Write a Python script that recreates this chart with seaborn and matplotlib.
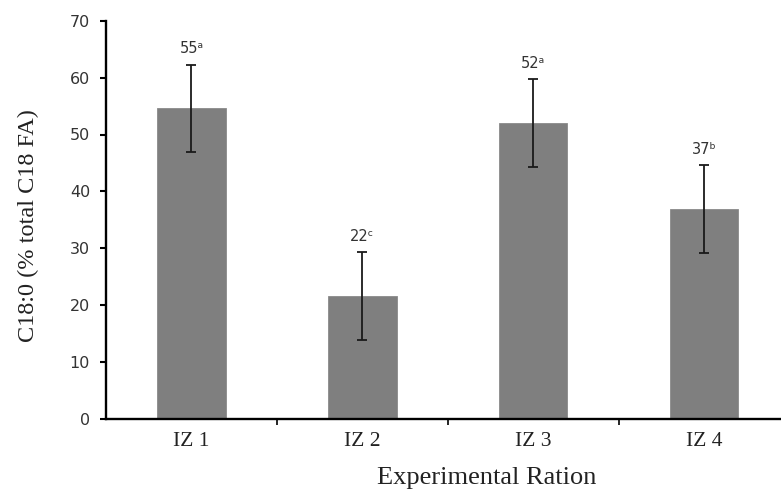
import matplotlib
matplotlib.use("Agg")
import matplotlib.pyplot as plt
import seaborn as sns
import pandas as pd
from matplotlib.ticker import FixedLocator

# ---- data ----
categories = ["IZ 1", "IZ 2", "IZ 3", "IZ 4"]
values = [54.6, 21.6, 52.0, 36.9]
errors = [7.7, 7.7, 7.7, 7.7]
value_labels = ["55", "22", "52", "37"]
letters = ["\u1d43", "\u1d9c", "\u1d43", "\u1d47"]  # superscript a, c, a, b
yticks = [0, 10, 20, 30, 40, 50, 60, 70]

df = pd.DataFrame({"ration": categories, "value": values})

sns.set_theme(style="white")
plt.rcParams["font.family"] = ["DejaVu Sans"]

W, H = 781, 491
fig = plt.figure(figsize=(W / 100, H / 100), dpi=100)
ax = fig.add_axes([106 / W, 1 - 419 / H, 1 - 106 / W, (419 - 20.7) / H])

sns.barplot(data=df, x="ration", y="value", color="#7f7f7f", saturation=1,
            width=0.40, errorbar=None, ax=ax, edgecolor="#8a8a8a", linewidth=0.6)

ax.errorbar(range(len(categories)), values, yerr=errors, fmt="none",
            ecolor="#1a1a1a", elinewidth=1.3, capsize=3.5, capthick=1.3, zorder=5)

for i, (v, e, lab, let) in enumerate(zip(values, errors, value_labels, letters)):
    ax.text(i, v + e + 2.8, lab + let, ha="center", va="center",
            fontsize=10.5, color="#333333", family=["DejaVu Sans"])

ax.set_xlim(-0.5, 3.45)
ax.set_ylim(0, 70)
ax.set_yticks(yticks)
ax.set_yticklabels([str(t) for t in yticks], fontsize=11.5, color="#333333",
                   family=["DejaVu Sans"])
ax.set_xticks(range(len(categories)))
ax.set_xticklabels(categories, fontsize=15.5, family=["Liberation Serif"], color="#222222")
ax.tick_params(axis="x", which="major", length=0, pad=9)
ax.xaxis.set_minor_locator(FixedLocator([0.5, 1.5, 2.5]))
ax.tick_params(axis="x", which="minor", length=4, width=1.2, color="black", direction="out", bottom=True)
ax.tick_params(axis="y", which="major", length=4.5, width=1.5, color="black", direction="out",
               left=True, pad=7)

for s in ["top", "right"]:
    ax.spines[s].set_visible(False)
for s in ["left", "bottom"]:
    ax.spines[s].set_color("black")
    ax.spines[s].set_linewidth(1.7)

ax.set_xlabel("")
ax.set_ylabel("")
fig.text(28 / W, 1 - 226 / H, "C18:0 (% total C18 FA)", rotation=90, ha="center", va="center",
         fontsize=17.5, family=["Liberation Serif"], color="#222222")
fig.text(486.5 / W, 1 - 478 / H, "Experimental Ration", ha="center", va="center",
         fontsize=19, family=["Liberation Serif"], color="#222222")

fig.savefig("out.png", dpi=100)
